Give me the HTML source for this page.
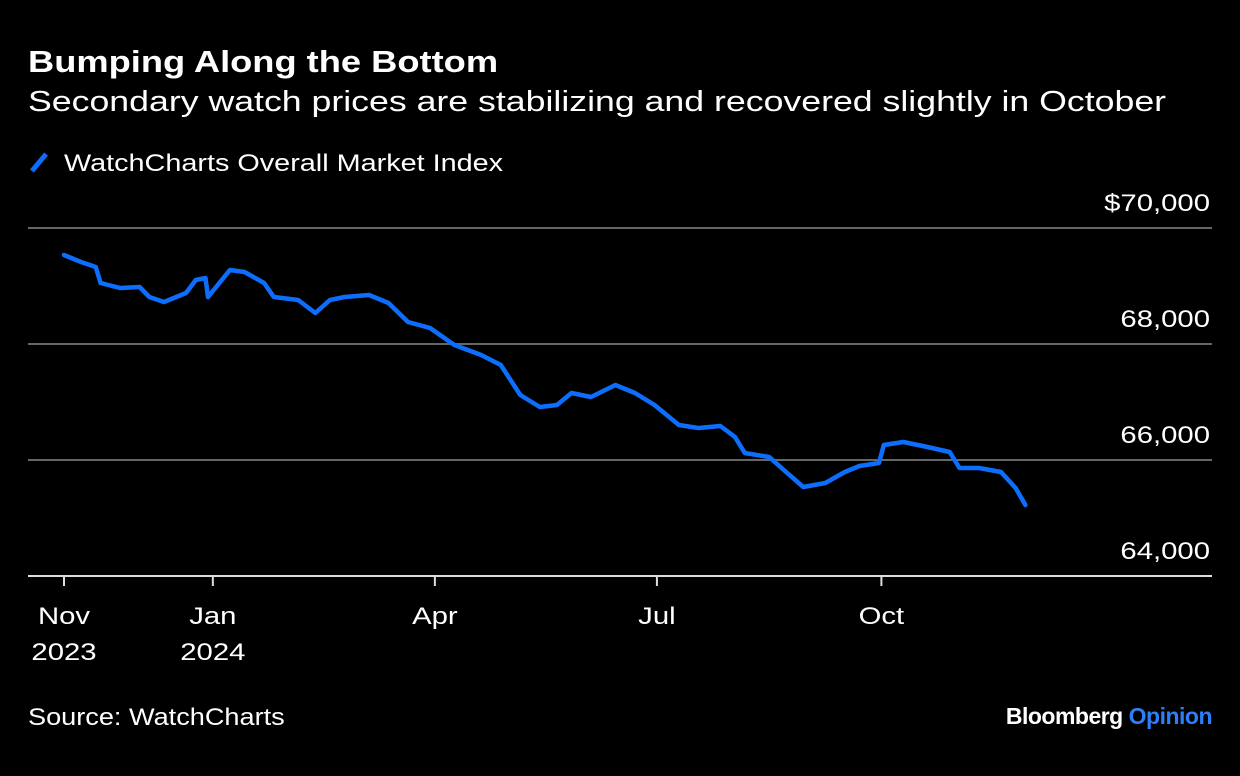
<!DOCTYPE html>
<html><head><meta charset="utf-8"><style>
body{margin:0;background:#000;width:1240px;height:776px;overflow:hidden;font-family:"Liberation Sans",sans-serif;color:#fff}
.t{position:absolute;white-space:nowrap;transform-origin:left center}
</style></head><body>
<div class="t" style="left:28px;top:44px;font-size:31px;font-weight:bold;transform:scaleX(1.17)">Bumping Along the Bottom</div>
<div class="t" style="left:28px;top:86px;font-size:29px;transform:scaleX(1.23)">Secondary watch prices are stabilizing and recovered slightly in October</div>
<div class="t" style="left:28px;top:150px;font-size:24px"><span style="display:inline-block;width:22px;height:5px;background:#0d6efd;transform:rotate(-50deg);vertical-align:middle;margin-right:14px;position:relative;top:-2px"></span><span style="display:inline-block;transform:scaleX(1.2);transform-origin:left center">WatchCharts Overall Market Index</span></div>
<svg id="c" width="1240" height="776" style="position:absolute;left:0;top:0"></svg>
<div class="t" style="left:28px;top:704px;font-size:24px;transform:scaleX(1.13)">Source: WatchCharts</div>
<div class="t" style="right:28px;top:703px;font-size:23px;font-weight:bold;letter-spacing:-0.5px">Bloomberg <span style="color:#2d7ff9">Opinion</span></div>
<script>
const days=[0,7,13,15,23,31,35,41,50,54,58,59,68,74,82,86,96,103,109,115,125,133,141,150,160,171,179,187,195,202,208,216,226,234,242,252,260,269,275,279,289,295,303,312,320,326,334,336,344,352,363,367,375,384,390,394];
const values=[69534,69414,69328,69052,68966,68983,68810,68724,68879,69103,69138,68810,69276,69241,69052,68810,68759,68534,68759,68810,68845,68707,68379,68276,67983,67810,67638,67121,66914,66948,67155,67086,67293,67155,66948,66603,66552,66586,66397,66121,66052,65828,65534,65603,65793,65897,65948,66259,66310,66241,66138,65862,65862,65793,65517,65224];
const yTicks=[64000,66000,68000,70000];
const yTickLabels=["64,000","66,000","68,000","$70,000"];
const xTicks=[0,61,152,243,335];
const xTickLabels=[["Nov","2023"],["Jan","2024"],["Apr",""],["Jul",""],["Oct",""]];
const svg=document.getElementById('c'),NS='http://www.w3.org/2000/svg';
const xS=d=>64+d*2.44, yS=v=>576-(v-64000)*0.058;
function mk(t,a,p){const e=document.createElementNS(NS,t);for(const k in a)e.setAttribute(k,a[k]);(p||svg).appendChild(e);return e;}
function widen(t){const w=t.getComputedTextLength();t.setAttribute('textLength',w*1.22);t.setAttribute('lengthAdjust','spacingAndGlyphs');}
yTicks.forEach((v,i)=>{
 const l=mk('line',{x1:28,x2:1212,y1:yS(v),y2:yS(v),stroke:i==0?'#ddd':'#666','stroke-width':2});
 
 
 const t=mk('text',{x:1210,y:yS(v)-17,'text-anchor':'end','font-size':24,fill:'#fff','font-family':'Liberation Sans'});
 t.textContent=yTickLabels[i];
 
 
 widen(t);
});
xTicks.forEach((d,i)=>{
 const l=mk('line',{x1:xS(d),x2:xS(d),y1:576,y2:586,stroke:'#ddd','stroke-width':2});
 
 
 xTickLabels[i].forEach((s,j)=>{if(!s)return;
  const t=mk('text',{x:xS(d),y:624+j*36,'text-anchor':'middle','font-size':24,fill:'#fff','font-family':'Liberation Sans'});
  t.textContent=s;
  
  
  widen(t);
 });
});
const p=mk('path',{d:days.map((d,i)=>(i?'L':'M')+xS(d).toFixed(1)+' '+yS(values[i]).toFixed(1)).join(''),fill:'none',stroke:'#0d6efd','stroke-width':4.5,'stroke-linejoin':'round','stroke-linecap':'round'});


</script>
</body></html>
